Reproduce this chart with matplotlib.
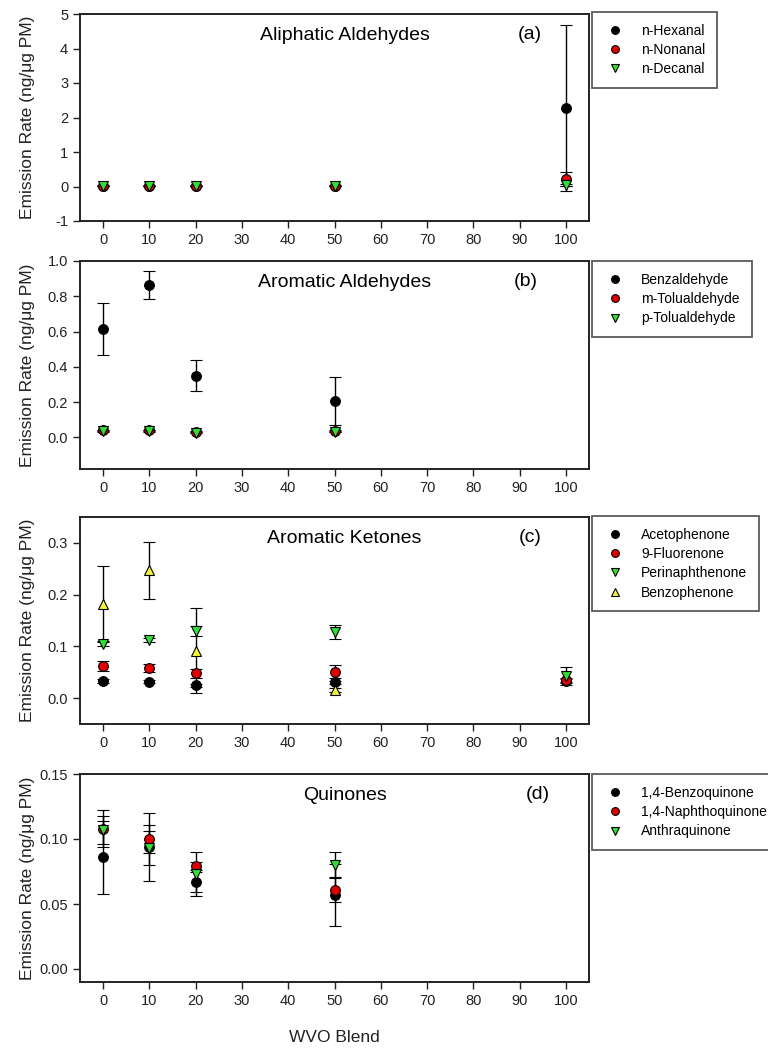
import matplotlib
matplotlib.use("Agg")
import matplotlib.pyplot as plt
from matplotlib.ticker import FormatStrFormatter

plt.rcParams['font.family'] = ['Liberation Sans', 'DejaVu Sans']

# ---------------- data ----------------
blend = [0, 10, 20, 50, 100]

# (a) Aliphatic Aldehydes
hexanal = [0.02, 0.02, 0.02, 0.02, 2.27]
hexanal_err = [0.01, 0.01, 0.01, 0.01, 2.40]
nonanal = [0.02, 0.02, 0.02, 0.02, 0.22]
nonanal_err = [0.005, 0.005, 0.005, 0.005, 0.20]
decanal = [0.02, 0.02, 0.02, 0.02, 0.04]
decanal_err = [0.005, 0.005, 0.005, 0.005, 0.02]

# (b) Aromatic Aldehydes (no values at 100)
blend_b = [0, 10, 20, 50]
benzaldehyde = [0.615, 0.865, 0.349, 0.204]
benzaldehyde_err = [0.147, 0.079, 0.088, 0.136]
m_tolualdehyde = [0.040, 0.040, 0.032, 0.036]
m_tolualdehyde_err = [0.004, 0.004, 0.004, 0.004]
p_tolualdehyde = [0.035, 0.035, 0.027, 0.032]
p_tolualdehyde_err = [0.004, 0.004, 0.004, 0.004]

# (c) Aromatic Ketones
acetophenone = [0.033, 0.032, 0.025, 0.031, 0.033]
acetophenone_err = [0.003, 0.003, 0.003, 0.003, 0.003]
fluorenone = [0.062, 0.058, 0.048, 0.051, 0.035]
fluorenone_err = [0.010, 0.007, 0.009, 0.013, 0.004]
perinaphthenone = [0.105, 0.113, 0.130, 0.128, 0.043]
perinaphthenone_err = [0.005, 0.004, 0.010, 0.013, 0.017]
blend_c4 = [0, 10, 20, 50]
benzophenone = [0.182, 0.247, 0.092, 0.016]
benzophenone_err = [0.073, 0.055, 0.083, 0.004]

# (d) Quinones (no values at 100)
blend_d = [0, 10, 20, 50]
benzoquinone = [0.086, 0.094, 0.067, 0.057]
benzoquinone_err = [0.028, 0.026, 0.008, 0.024]
naphthoquinone = [0.108, 0.100, 0.079, 0.061]
naphthoquinone_err = [0.0145, 0.011, 0.003, 0.0095]
anthraquinone = [0.107, 0.093, 0.073, 0.080]
anthraquinone_err = [0.011, 0.013, 0.017, 0.010]

xticks = [0, 10, 20, 30, 40, 50, 60, 70, 80, 90, 100]

BLACK = 'black'
RED = '#e00000'
GREEN = '#33dd33'
YELLOW = '#f2f23c'

W, H = 768, 1048
fig = plt.figure(figsize=(W / 100, H / 100), dpi=100)


def make_axes(top_px, bottom_px):
    left, right = 80, 589
    return fig.add_axes([left / W, 1 - bottom_px / H, (right - left) / W, (bottom_px - top_px) / H])


def series(ax, x, y, e, marker, color, label, ms=7):
    ax.errorbar(x, y, yerr=e, fmt=marker, color=color, mec='black', mew=0.8,
                ms=ms, ecolor='black', elinewidth=1.0, capsize=4, capthick=1.0,
                label=label)


def style(ax, ylim, yticks, fmt, title, tag, tag_x=0.884):
    ax.set_xlim(-5, 105)
    ax.set_ylim(*ylim)
    ax.set_xticks(xticks)
    ax.set_yticks(yticks)
    ax.yaxis.set_major_formatter(FormatStrFormatter(fmt))
    ax.tick_params(direction='out', length=5, width=1.0, labelsize=10.5, top=False, right=False,
                   colors='#222222')
    for s in ax.spines.values():
        s.set_linewidth(1.4)
        s.set_color('#222222')
    ax.set_ylabel('Emission Rate (ng/μg PM)', fontsize=12.5, color='#222222')
    ax.yaxis.set_label_coords(-0.088, 0.5)
    ax.text(0.52, 0.895, title, transform=ax.transAxes, ha='center', va='center', fontsize=14)
    ax.text(tag_x, 0.90, tag, transform=ax.transAxes, ha='center', va='center', fontsize=14)


def legend(ax, top_offset=0.0):
    handles, labels = ax.get_legend_handles_labels()
    handles = [h[0] for h in handles]
    leg = ax.legend(handles, labels, loc='upper left', bbox_to_anchor=(1.006, 1.0 + top_offset),
                    borderaxespad=0, frameon=True, fancybox=False, fontsize=10,
                    markerscale=0.8, handletextpad=1.1, handlelength=1.6,
                    labelspacing=0.38, borderpad=0.85)
    leg.get_frame().set_edgecolor('#333333')
    leg.get_frame().set_linewidth(1.3)


# (a)
ax = make_axes(14, 221)
series(ax, blend, hexanal, hexanal_err, 'o', BLACK, 'n-Hexanal')
series(ax, blend, nonanal, nonanal_err, 'o', RED, 'n-Nonanal')
series(ax, blend, decanal, decanal_err, 'v', GREEN, 'n-Decanal')
style(ax, (-1, 5), [-1, 0, 1, 2, 3, 4, 5], '%d', 'Aliphatic Aldehydes', '(a)')
legend(ax, 0.01)

# (b)
ax = make_axes(261, 469)
series(ax, blend_b, benzaldehyde, benzaldehyde_err, 'o', BLACK, 'Benzaldehyde')
series(ax, blend_b, m_tolualdehyde, m_tolualdehyde_err, 'o', RED, 'm-Tolualdehyde')
series(ax, blend_b, p_tolualdehyde, p_tolualdehyde_err, 'v', GREEN, 'p-Tolualdehyde')
style(ax, (-0.18, 1.0), [0.0, 0.2, 0.4, 0.6, 0.8, 1.0], '%.1f', 'Aromatic Aldehydes', '(b)', tag_x=0.876)
legend(ax)

# (c)
ax = make_axes(517, 724)
series(ax, blend, acetophenone, acetophenone_err, 'o', BLACK, 'Acetophenone')
series(ax, blend, fluorenone, fluorenone_err, 'o', RED, '9-Fluorenone')
series(ax, blend, perinaphthenone, perinaphthenone_err, 'v', GREEN, 'Perinaphthenone')
series(ax, blend_c4, benzophenone, benzophenone_err, '^', YELLOW, 'Benzophenone')
style(ax, (-0.05, 0.35), [0.0, 0.1, 0.2, 0.3], '%.1f', 'Aromatic Ketones', '(c)')
legend(ax, 0.005)

# (d)
ax = make_axes(774, 982)
series(ax, blend_d, benzoquinone, benzoquinone_err, 'o', BLACK, '1,4-Benzoquinone')
series(ax, blend_d, naphthoquinone, naphthoquinone_err, 'o', RED, '1,4-Naphthoquinone')
series(ax, blend_d, anthraquinone, anthraquinone_err, 'v', GREEN, 'Anthraquinone')
style(ax, (-0.01, 0.15), [0.00, 0.05, 0.10, 0.15], '%.2f', 'Quinones', '(d)', tag_x=0.9)
legend(ax)

fig.text(334.5 / W, 1 - 1037 / H, 'WVO Blend', ha='center', va='center', fontsize=12.5,
         color='#222222')

fig.savefig('out.png', dpi=100)
